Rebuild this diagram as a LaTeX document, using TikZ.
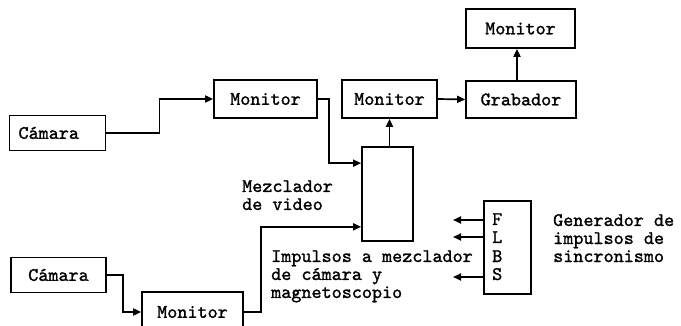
\documentclass[tikz,border=0pt]{standalone}
\usepackage{fontspec}
\newfontfamily\tfont{lmmono10-regular.otf}[FakeBold=1.3]
\usetikzlibrary{arrows.meta}
\begin{document}
\begin{tikzpicture}[x=1pt,y=-1pt,
  every node/.style={font=\tfont\fontsize{19.2}{18}\selectfont},
  box/.style={draw,line width=1.7pt,inner sep=0pt,align=center},
  lbl/.style={inner sep=0pt,anchor=base west,align=left},
  arr/.style={line width=1.7pt,-{Triangle[length=8pt,width=7pt]}}]
\useasboundingbox (0,0) rectangle (681,326);
% boxes
\node[box,text width=78pt,inner xsep=9pt,align=left,minimum height=35pt] (cam1) at (57.5,133) {Cámara};
\node[box,minimum width=103pt,minimum height=38pt] (mon1) at (265.5,99) {Monitor};
\node[box,minimum width=95pt,minimum height=38pt] (mon2) at (389.5,99) {Monitor};
\node[box,minimum width=110pt,minimum height=37pt] (grab) at (521,99.5) {Grabador};
\node[box,minimum width=109pt,minimum height=39pt] (montop) at (520.5,28.5) {Monitor};
\node[box,minimum width=51pt,minimum height=94pt] (mix) at (387.5,194) {};
\node[box,minimum width=95pt,minimum height=35pt] (cam2) at (58.5,275) {Cámara};
\node[box,minimum width=101pt,minimum height=40pt] (mon3) at (192.5,312) {Monitor};
\node[box,minimum width=47pt,minimum height=93pt] (gen) at (507.5,247.5) {};
% labels (base = baseline of the last line)
\node[lbl] (lmix) at (242,210) {Mezclador\\de video};
\node[lbl] (limp) at (271,298) {Impulsos a mezclador\\de cámara y\\magnetoscopio};
\node[lbl] (lgen) at (553,262) {Generador de\\impulsos de\\sincronismo};
\node[lbl] (lF) at (492,225) {F};
\node[lbl] (lL) at (492,243) {L};
\node[lbl] (lB) at (492,262) {B};
\node[lbl] (lS) at (492,280) {S};
% output coordinates of the generator
\coordinate (oF) at (453,220);
\coordinate (oL) at (453,237);
\coordinate (oS) at (453,277);
% connectors
\draw[arr] (cam1.east) -- ++(53,0) |- (mon1.west);
\draw[arr] (mon1.east) -- ++(11,0) |- ([yshift=-17pt]mix.north west);
\draw[arr] (cam2.east) -- ++(16,0) |- (mon3.west);
\draw[arr] (mon3.east) -- ++(17,0) |- ([yshift=15pt]mix.south west);
\draw[arr] (mon2.south |- mix.north) -- (mon2.south);
\draw[arr] (mon2.east) -- (grab.west);
\draw[arr] ([xshift=-4pt]grab.north) -- ([xshift=-4pt]grab.north |- montop.south);
\draw[arr] (gen.west |- oF) -- (oF);
\draw[arr] (gen.west |- oL) -- (oL);
\draw[arr] (gen.west |- oS) -- (oS);
\end{tikzpicture}
\end{document}
